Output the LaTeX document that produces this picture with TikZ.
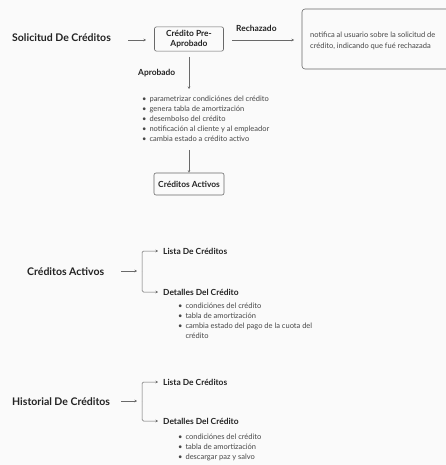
\documentclass[tikz,border=0pt]{standalone}
\usepackage{fontspec}
\setmainfont{Lato}
\definecolor{fondo}{RGB}{250,250,250}
\definecolor{tinta}{RGB}{35,35,35}
\definecolor{suave}{RGB}{70,70,70}
\definecolor{gris}{RGB}{105,105,105}
\usetikzlibrary{arrows.meta,positioning}

\begin{document}
\begin{tikzpicture}[x=1pt,y=-1pt,tinta,
	titulo/.style={font=\fontsize{10.5}{12}\selectfont\bfseries,anchor=west,inner sep=0pt},
	caja/.style={draw=gris,rounded corners=2pt,line width=0.6pt,align=center,font=\fontsize{8.4}{10}\selectfont\bfseries},
	rotulo/.style={font=\fontsize{8.4}{10}\selectfont\bfseries,inner sep=0pt},
	lista/.style={suave,font=\fontsize{7.5}{10}\selectfont,anchor=north west,inner sep=0pt,align=left},
	flecha/.style={gris,line width=0.5pt,-{Stealth[length=2.5pt,width=2.5pt]}},
	llave/.style={flecha,rounded corners=1.5pt}]
	\fill[fondo] (0,0) rectangle (446,465);
	\useasboundingbox (0,0) rectangle (446,465);
	% solicitud de creditos
	\node[titulo] (sol) at (12,38){Solicitud De Créditos};
	\node[caja,minimum width=69pt,minimum height=21pt] (pre) at (189,39){Crédito Pre-\\Aprobado};
	\coordinate (sol-a) at (128,40);
	\coordinate (sol-b) at (146,40);
	\draw[flecha] (sol-a)--(sol-b);
	\draw[gris,rounded corners=3pt,line width=0.6pt] (302,9) rectangle (460,69);
	\node[suave,font=\fontsize{7.5}{11}\selectfont,anchor=west,align=left,inner sep=0pt] (notif) at (310,41){notifica al usuario sobre la solicitud de\\crédito, indicando que fué rechazada};
	\coordinate (rech-a) at (232,40);
	\coordinate (rech-b) at (294,40);
	\draw[flecha] (rech-a)--(rech-b);
	\node[rotulo,anchor=west] (rech) at (236,28){Rechazado};
	\coordinate (apr-a) at (189,57);
	\coordinate (apr-b) at (189,89);
	\draw[flecha] (apr-a)--(apr-b);
	\node[rotulo,anchor=west] (apr) at (138,73){Aprobado};
	\node[lista] (pasos) at (142,94){\begin{tabular}{@{}l@{\hspace{3pt}}l@{}}
		• & parametrizar condiciónes del crédito\\
		• & genera tabla de amortización\\
		• & desembolso del crédito\\
		• & notificación al cliente y al empleador\\
		• & cambia estado a crédito activo
	\end{tabular}};
	\node[caja,minimum width=70pt,minimum height=22pt] (act) at (189,184){Créditos Activos};
	\coordinate (pasos-a) at (189,150);
	\draw[flecha] (pasos-a)--(act.north);
	% creditos activos
	\node[titulo] (act2) at (27,272){Créditos Activos};
	\node[rotulo,anchor=west] (lst2) at (163,251){Lista De Créditos};
	\node[rotulo,anchor=west] (det2) at (163,292){Detalles Del Crédito};
	\coordinate (act2-a) at (121,271);
	\coordinate (act2-b) at (137,271);
	\coordinate (act2-c) at (142,271);
	\draw[flecha] (act2-a)--(act2-b);
	\draw[llave] (act2-c) |- ([xshift=-5pt]lst2.west);
	\draw[llave] (act2-c) |- ([xshift=-5pt]det2.west);
	\node[lista] (det2-l) at (178,301){\begin{tabular}{@{}l@{\hspace{3pt}}l@{}}
		• & condiciónes del crédito\\
		• & tabla de amortización\\
		• & cambia estado del pago de la cuota del\\
		& crédito
	\end{tabular}};
	% historial de creditos
	\node[titulo] (his) at (12,402){Historial De Créditos};
	\node[rotulo,anchor=west] (lst3) at (163,382){Lista De Créditos};
	\node[rotulo,anchor=west] (det3) at (163,421){Detalles Del Crédito};
	\coordinate (his-a) at (121,401);
	\coordinate (his-b) at (137,401);
	\coordinate (his-c) at (142,401);
	\draw[flecha] (his-a)--(his-b);
	\draw[llave] (his-c) |- ([xshift=-5pt]lst3.west);
	\draw[llave] (his-c) |- ([xshift=-5pt]det3.west);
	\node[lista] (det3-l) at (178,432){\begin{tabular}{@{}l@{\hspace{3pt}}l@{}}
		• & condiciónes del crédito\\
		• & tabla de amortización\\
		• & descargar paz y salvo
	\end{tabular}};
\end{tikzpicture}
\end{document}
